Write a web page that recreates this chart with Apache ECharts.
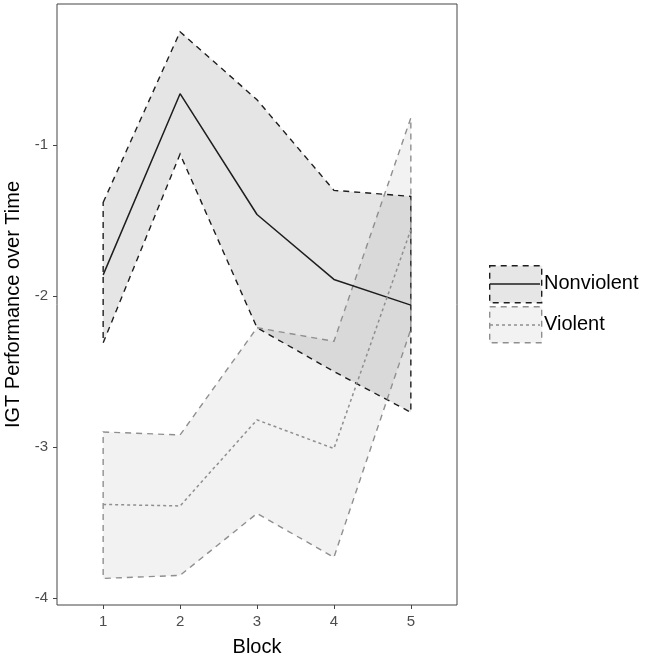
<!DOCTYPE html>
<html>
<head>
<meta charset="utf-8">
<script src="https://cdn.jsdelivr.net/npm/echarts@6/dist/echarts.min.js"></script>
<style>html,body{margin:0;padding:0;background:#fff;}#c{width:652px;height:657px;}</style>
</head>
<body>
<div id="c"></div>
<script>
const blocks = [1, 2, 3, 4, 5];
const xTicks = [1, 2, 3, 4, 5];
const yTicks = [-4, -3, -2, -1];
const nonviolentMean  = [-1.86, -0.66, -1.46, -1.89, -2.06];
const nonviolentUpper = [-1.38, -0.25, -0.70, -1.30, -1.34];
const nonviolentLower = [-2.31, -1.06, -2.21, -2.50, -2.77];
const violentMean  = [-3.38, -3.39, -2.82, -3.01, -1.56];
const violentUpper = [-2.90, -2.92, -2.21, -2.30, -0.82];
const violentLower = [-3.87, -3.85, -3.44, -3.73, -2.22];
const groupNames = ['Nonviolent', 'Violent'];

const FONT = "'Liberation Sans', Arial, sans-serif";

function ribbon(name, upper, lower, fill, stroke) {
  return {
    type: 'custom',
    name: name,
    silent: true,
    z: 1,
    data: blocks.map((b, i) => [b, upper[i], lower[i]]),
    encode: { x: 0, y: [1, 2] },
    renderItem: function (params, api) {
      if (params.dataIndex !== 0) return null;
      const pts = [];
      for (let i = 0; i < blocks.length; i++) pts.push(api.coord([blocks[i], upper[i]]));
      for (let i = blocks.length - 1; i >= 0; i--) pts.push(api.coord([blocks[i], lower[i]]));
      return {
        type: 'polygon',
        shape: { points: pts },
        style: { fill: fill, stroke: stroke, lineWidth: 1.4, lineDash: [6, 5] }
      };
    }
  };
}

function meanLine(name, vals, color, dash) {
  return {
    type: 'line',
    name: name,
    z: 3,
    symbol: 'none',
    silent: true,
    data: blocks.map((b, i) => [b, vals[i]]),
    lineStyle: { color: color, width: 1.5, type: dash }
  };
}

const chart = echarts.init(document.getElementById('c'), null, { renderer: 'canvas' });
chart.setOption({
  animation: false,
  backgroundColor: '#fff',
  grid: { left: 57, right: 195, top: 4, bottom: 52, containLabel: false, outerBoundsMode: 'none', show: true, borderColor: '#444', borderWidth: 1, backgroundColor: 'transparent' },
  xAxis: {
    type: 'value', min: 0.4, max: 5.6,
    name: 'Block', nameLocation: 'middle', nameGap: 32,
    nameTextStyle: { fontFamily: FONT, fontSize: 20, color: '#000' },
    axisLine: { show: false },
    splitLine: { show: false },
    axisTick: { show: true, length: 4, lineStyle: { color: '#444' }, customValues: xTicks },
    axisLabel: { fontFamily: FONT, fontSize: 15, color: '#4d4d4d', margin: 9, customValues: xTicks }
  },
  yAxis: {
    type: 'value', min: -4.046, max: -0.066,
    name: 'IGT Performance over Time', nameLocation: 'middle', nameGap: 31,
    nameTextStyle: { fontFamily: FONT, fontSize: 20, color: '#000' },
    axisLine: { show: false },
    splitLine: { show: false },
    axisTick: { show: true, length: 4, lineStyle: { color: '#444' }, customValues: yTicks },
    axisLabel: { fontFamily: FONT, fontSize: 15, color: '#4d4d4d', margin: 9, customValues: yTicks }
  },
  series: [
    ribbon(groupNames[0], nonviolentUpper, nonviolentLower, 'rgba(0,0,0,0.10)', '#1e1e1e'),
    ribbon(groupNames[1], violentUpper, violentLower, 'rgba(0,0,0,0.05)', '#8f8f8f'),
    meanLine(groupNames[0], nonviolentMean, '#1e1e1e', 'solid'),
    meanLine(groupNames[1], violentMean, '#8f8f8f', [3, 3])
  ],
  graphic: [
    { type: 'rect', left: 489, top: 265, shape: { width: 52, height: 37 }, style: { fill: '#e6e6e6', stroke: '#1e1e1e', lineWidth: 1.4, lineDash: [6, 5] } },
    { type: 'line', shape: { x1: 490, y1: 284, x2: 540, y2: 284 }, style: { stroke: '#1e1e1e', lineWidth: 1.5 } },
    { type: 'rect', left: 489, top: 306, shape: { width: 52, height: 36 }, style: { fill: '#f2f2f2', stroke: '#8f8f8f', lineWidth: 1.4, lineDash: [6, 5] } },
    { type: 'line', shape: { x1: 490, y1: 325, x2: 540, y2: 325 }, style: { stroke: '#8f8f8f', lineWidth: 1.5, lineDash: [3, 3] } },
    { type: 'text', left: 544, top: 273, style: { text: groupNames[0], font: "20px 'Liberation Sans', Arial, sans-serif", fill: '#000' } },
    { type: 'text', left: 544, top: 314, style: { text: groupNames[1], font: "20px 'Liberation Sans', Arial, sans-serif", fill: '#000' } }
  ]
});
</script>
</body>
</html>
